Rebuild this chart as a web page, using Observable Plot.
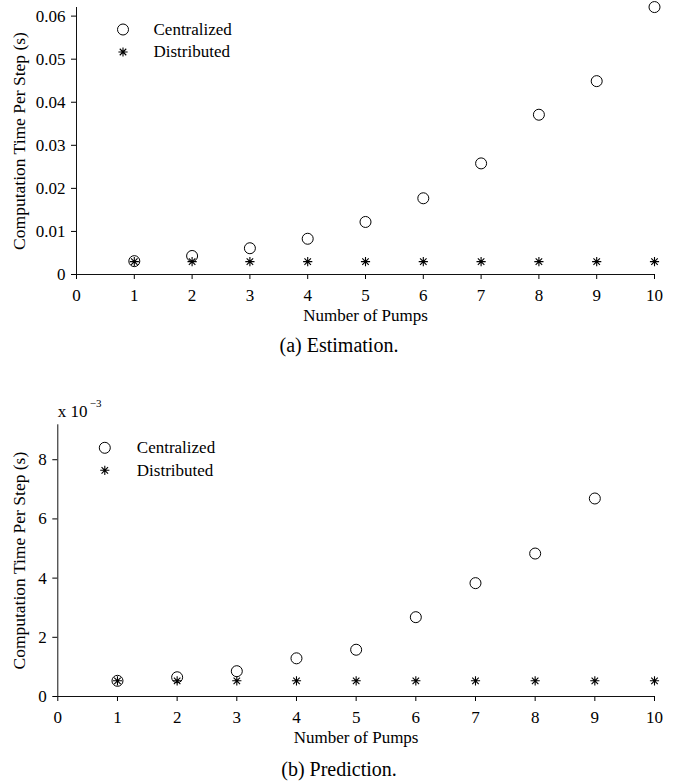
<!DOCTYPE html>
<html>
<head>
<meta charset="utf-8">
<script src="https://cdn.jsdelivr.net/npm/d3@7"></script>
<script src="https://cdn.jsdelivr.net/npm/@observablehq/plot@0.6"></script>
<style>
  html, body { margin: 0; padding: 0; background: #fff; }
  #page { position: relative; width: 678px; height: 781px; font-family: "Liberation Serif", serif; color: #000; }
  .panel { position: absolute; left: 0; }
  .caption { position: absolute; left: 0; width: 678px; text-align: center; font-size: 20px; line-height: 20px; }
</style>
</head>
<body>
<div id="page">
  <div class="panel" id="top" style="top:0px"></div>
  <div class="caption" style="top:335px">(a) Estimation.</div>
  <div class="panel" id="bottom" style="top:395px"></div>
  <div class="caption" style="top:759px">(b) Prediction.</div>
</div>
<script>
// ---- data ----
const pumps = [1, 2, 3, 4, 5, 6, 7, 8, 9, 10];
// (a) Estimation, seconds
const estCentralized = [0.0031, 0.0043, 0.0061, 0.0083, 0.0122, 0.0177, 0.0258, 0.0371, 0.0449, 0.0621];
const estDistributed = [0.0030, 0.0030, 0.0030, 0.0030, 0.0030, 0.0030, 0.0030, 0.0030, 0.0030, 0.0030];
// (b) Prediction, x 10^-3 seconds (no centralized point at 10 pumps)
const predPumpsCentralized = [1, 2, 3, 4, 5, 6, 7, 8, 9];
const predCentralized = [0.53, 0.65, 0.855, 1.29, 1.58, 2.68, 3.83, 4.83, 6.69];
const predDistributed = [0.53, 0.53, 0.53, 0.53, 0.53, 0.53, 0.53, 0.53, 0.53, 0.53];
// tick labels
const xTicks = [0, 1, 2, 3, 4, 5, 6, 7, 8, 9, 10];
const estYTicks = [0, 0.01, 0.02, 0.03, 0.04, 0.05, 0.06];
const predYTicks = [0, 2, 4, 6, 8];
const seriesNames = ["Centralized", "Distributed"];
const xLabel = "Number of Pumps";
const yLabel = "Computation Time Per Step (s)";

// asterisk marker (+ and x combined)
const asterisk = {
  draw(ctx, size) {
    const r = Math.sqrt(size / Math.PI);
    const d = r * Math.SQRT1_2;
    ctx.moveTo(-r, 0); ctx.lineTo(r, 0);
    ctx.moveTo(0, -r); ctx.lineTo(0, r);
    ctx.moveTo(-d, -d); ctx.lineTo(d, d);
    ctx.moveTo(-d, d); ctx.lineTo(d, -d);
  }
};

const fmtEst = d => d === 0 ? "0" : d3.format(".2f")(d);

function panel({cent, centX, dist, yDomain, yTicks, yFmt, marginLeft, marginTop, marginBottom, height, ylabelDx, legend, exponent}) {
  const centData = centX.map((x, i) => ({x, y: cent[i]}));
  const distData = pumps.map((x, i) => ({x, y: dist[i]}));
  const marks = [
    Plot.axisX({ticks: xTicks, tickSize: 5, tickPadding: 9, tickFormat: d => String(d), label: null, fontSize: 17}),
    Plot.axisY({ticks: yTicks, tickSize: 5, tickPadding: 6, tickFormat: yFmt, label: null, fontSize: 17}),
    Plot.ruleY([0], {stroke: "#111", strokeWidth: 1}),
    Plot.ruleX([0], {stroke: "#111", strokeWidth: 1}),
    Plot.dot(centData, {x: "x", y: "y", r: 5.5, stroke: "black", fill: "none", strokeWidth: 1}),
    Plot.dot(distData, {x: "x", y: "y", r: 4.6, symbol: asterisk, stroke: "black", fill: "none", strokeWidth: 1.1}),
    // legend
    Plot.dot([seriesNames[0]], {frameAnchor: "top-left", dx: legend.dx, dy: legend.dy, r: 5.5, stroke: "black", fill: "none", strokeWidth: 1}),
    Plot.dot([seriesNames[1]], {frameAnchor: "top-left", dx: legend.dx, dy: legend.dy + 22.5, r: 4.6, symbol: asterisk, stroke: "black", fill: "none", strokeWidth: 1.1}),
    Plot.text([seriesNames[0]], {text: d => d, frameAnchor: "top-left", dx: legend.tx, dy: legend.dy, textAnchor: "start", lineAnchor: "middle", fontSize: 17}),
    Plot.text([seriesNames[1]], {text: d => d, frameAnchor: "top-left", dx: legend.tx, dy: legend.dy + 22.5, textAnchor: "start", lineAnchor: "middle", fontSize: 17}),
    // axis titles
    Plot.text([xLabel], {text: d => d, frameAnchor: "bottom", dy: 41, textAnchor: "middle", lineAnchor: "middle", fontSize: 17}),
    Plot.text([yLabel], {text: d => d, frameAnchor: "left", dx: ylabelDx, rotate: -90, textAnchor: "middle", lineAnchor: "middle", fontSize: 17.5})
  ];
  if (exponent) {
    marks.push(Plot.text(["x 10"], {text: d => d, frameAnchor: "top-left", dx: 0, dy: -13, textAnchor: "start", lineAnchor: "middle", fontSize: 17}));
    marks.push(Plot.text([exponent], {text: d => d, frameAnchor: "top-left", dx: 32, dy: -21, textAnchor: "start", lineAnchor: "middle", fontSize: 11}));
  }
  return Plot.plot({
    width: 678,
    height,
    marginLeft,
    marginRight: 678 - 654,
    marginTop,
    marginBottom,
    x: {domain: [0, 10]},
    y: {domain: yDomain},
    style: {fontFamily: "Liberation Serif, serif", fontSize: "17px", color: "black", background: "white"},
    marks
  });
}

document.getElementById("top").appendChild(panel({
  cent: estCentralized, centX: pumps, dist: estDistributed,
  yDomain: [0, 0.062], yTicks: estYTicks, yFmt: fmtEst,
  marginLeft: 76, marginTop: 7, marginBottom: 56, height: 330,
  ylabelDx: -57,
  legend: {dx: 46.5, dy: 22, tx: 77}
}));

document.getElementById("bottom").appendChild(panel({
  cent: predCentralized, centX: predPumpsCentralized, dist: predDistributed,
  yDomain: [0, 9.18], yTicks: predYTicks, yFmt: d => String(d),
  marginLeft: 57.3, marginTop: 29.3, marginBottom: 59, height: 360,
  ylabelDx: -38,
  legend: {dx: 47, dy: 23, tx: 79},
  exponent: "\u22123"
}));
</script>
</body>
</html>
